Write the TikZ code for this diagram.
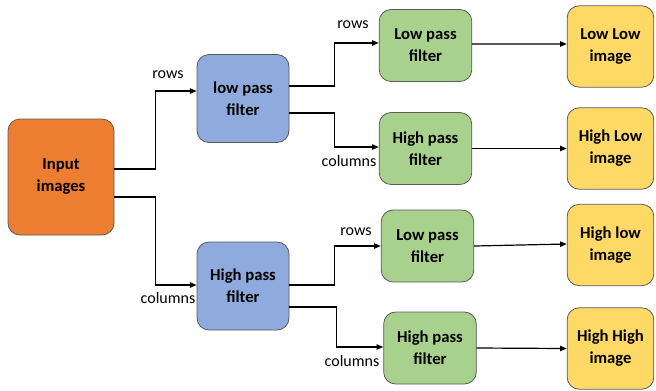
\documentclass[tikz,border=0pt]{standalone}
\usepackage{fontspec}
\setmainfont{Carlito}
\usetikzlibrary{arrows.meta,calc}
\definecolor{cin}{HTML}{ED7D31}
\definecolor{cblue}{HTML}{8FAADC}
\definecolor{cgreen}{HTML}{A9D18E}
\definecolor{cyel}{HTML}{FFD966}
\definecolor{cedge}{HTML}{5A5A5A}
\tikzset{
  box/.style={draw=cedge, line width=0.6pt, rounded corners=9pt, align=center,
    font=\fontsize{12.5}{16.5}\selectfont\bfseries, inner sep=0pt},
  inbox/.style={box, fill=cin, minimum width=79.5pt, minimum height=87pt},
  bluebox/.style={box, fill=cblue, minimum width=69pt, minimum height=66pt},
  greenbox/.style={box, fill=cgreen, minimum width=69.5pt, minimum height=54pt},
  yelbox/.style={box, fill=cyel, minimum width=65pt, minimum height=61pt},
  arr/.style={draw=black, line width=0.9pt, -{Triangle[length=5pt,width=4pt]}},
  lbl/.style={font=\fontsize{12}{14}\selectfont, inner sep=0pt}
}
\begin{document}
\begin{tikzpicture}[x=0.75pt,y=-0.75pt]
\useasboundingbox (0,0) rectangle (656,390);
% nodes
\node[inbox] (in) at (61,177) {Input\\images};
\node[bluebox] (lp) at (243,98.5) {low pass\\filter};
\node[bluebox] (hp) at (243,286) {High pass\\filter};
\node[greenbox] (lp1) at (425.5,45.5) {Low pass\\filter};
\node[greenbox] (hp1) at (425.5,148.5) {High pass\\filter};
\node[greenbox] (lp2) at (427.5,246) {Low pass\\filter};
\node[greenbox] (hp2) at (430,348) {High pass\\filter};
\node[yelbox] (ll) at (610.5,46.5) {Low Low\\image};
\node[yelbox] (hl) at (610.5,148.5) {High Low\\image};
\node[yelbox] (hl2) at (610.5,245) {High low\\image};
\node[yelbox] (hh) at (610.5,348.5) {High High\\image};
% labels
\node[lbl] (r0) at (168,75) {rows};
\node[lbl] (c0) at (168,298) {columns};
\node[lbl] (r1) at (353,25) {rows};
\node[lbl] (c1) at (349,161) {columns};
\node[lbl] (r2) at (356,232) {rows};
\node[lbl] (c2) at (352,361) {columns};
% connectors
\draw[arr] ([yshift=6pt]in.east) -- ++(41,0) |- ([yshift=5.6pt]lp.west);
\draw[arr] ([yshift=-15pt]in.east) -- ++(41,0) |- ([yshift=0.75pt]hp.west);
\draw[arr] ([yshift=9.4pt]lp.east) -- ++(45,0) |- ([yshift=1.9pt]lp1.west);
\draw[arr] ([yshift=-10.9pt]lp.east) -- ++(45,0) |- ([yshift=1.1pt]hp1.west);
\draw[arr] ([yshift=0.75pt]hp.east) -- ++(45,0) |- (lp2.west);
\draw[arr] ([yshift=-15.75pt]hp.east) -- ++(47,0) |- ([yshift=0.75pt]hp2.west);
\draw[arr] ([yshift=1.1pt]lp1.east) -- ([yshift=1.9pt]ll.west);
\draw[arr] (hp1.east) -- (hl.west);
\draw[arr] (lp2.east) -- ([yshift=0.75pt]hl2.west);
\draw[arr] (hp2.east) -- (hh.west);
\end{tikzpicture}
\end{document}
